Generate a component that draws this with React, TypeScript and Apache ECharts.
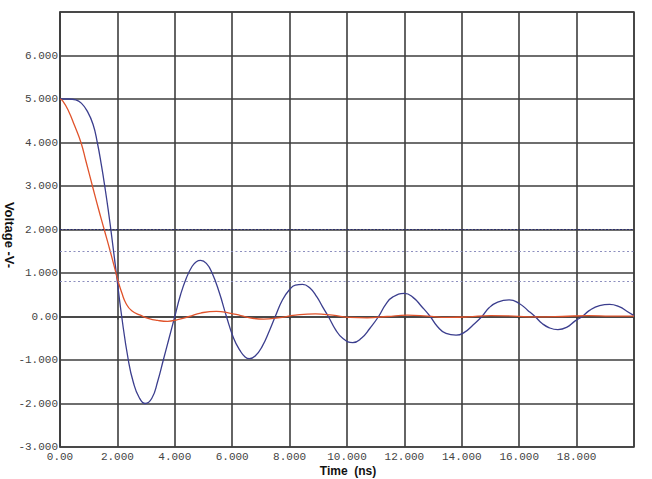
import React, { useEffect, useRef } from "react";
import * as echarts from "echarts";

// Blue trace (time in ns, voltage in V)
const blueTime = [
  0, 0.3, 0.55, 0.75, 0.95, 1.15, 1.3, 1.45, 1.57, 1.68, 1.8, 1.97, 2.15, 2.38, 2.55, 2.75, 2.97,
  3.2, 3.4, 3.6, 3.8, 4.0, 4.2, 4.4, 4.6, 4.75, 4.9, 5.1, 5.3, 5.55, 5.8, 6.05, 6.27, 6.45, 6.6,
  6.8, 7.05, 7.3, 7.5, 7.75, 8.0, 8.2, 8.45, 8.7, 8.95, 9.15, 9.35, 9.6, 9.85, 10.2, 10.5, 10.8,
  11.1, 11.35, 11.6, 12.0, 12.3, 12.6, 12.9, 13.15, 13.45, 13.8, 14.1, 14.4, 14.7, 14.95, 15.25,
  15.65, 16.0, 16.3, 16.55, 16.8, 17.05, 17.35, 17.65, 17.95, 18.2, 18.45, 18.8, 19.15, 19.5,
  19.75, 20.0,
];
const blueVolt = [
  5.0, 5.0, 4.98, 4.9, 4.72, 4.42, 4.0, 3.45, 2.95, 2.45, 1.85, 0.95, 0.0, -1.0, -1.5, -1.85, -2.0,
  -1.88, -1.5, -1.0, -0.5, 0.0, 0.5, 0.88, 1.15, 1.26, 1.29, 1.22, 1.0, 0.55, 0.0, -0.5, -0.78,
  -0.93, -0.97, -0.91, -0.68, -0.32, 0.0, 0.38, 0.62, 0.72, 0.74, 0.66, 0.45, 0.22, 0.0, -0.3,
  -0.5, -0.6, -0.5, -0.27, 0.0, 0.28, 0.45, 0.53, 0.44, 0.23, 0.0, -0.23, -0.39, -0.43, -0.36,
  -0.19, 0.0, 0.2, 0.33, 0.38, 0.3, 0.14, 0.0, -0.16, -0.26, -0.3, -0.25, -0.1, 0.0, 0.14, 0.25,
  0.28, 0.22, 0.12, 0.02,
];

// Red trace
const redTime = [
  0, 0.1, 0.3, 0.5, 0.73, 0.9, 1.13, 1.33, 1.54, 1.75, 1.95, 2.03, 2.15, 2.3, 2.5, 2.8, 3.1, 3.4,
  3.75, 4.1, 4.5, 4.9, 5.45, 5.9, 6.3, 6.7, 7.1, 7.6, 8.2, 8.9, 9.5, 10.1, 10.7, 11.4, 12.1, 12.8,
  13.5, 14.2, 15.0, 15.8, 16.6, 17.5, 18.4, 19.2, 20.0,
];
const redVolt = [
  5.0, 4.95, 4.72, 4.4, 4.0, 3.58, 3.0, 2.5, 2.0, 1.5, 1.0, 0.8, 0.55, 0.3, 0.13, 0.03, -0.05,
  -0.09, -0.11, -0.07, 0.0, 0.08, 0.12, 0.08, 0.02, -0.04, -0.06, -0.03, 0.03, 0.06, 0.03, -0.02,
  -0.03, 0.0, 0.03, 0.01, -0.02, -0.01, 0.02, 0.01, -0.01, 0.0, 0.02, 0.01, 0.01,
];

// Horizontal dotted reference levels
const darkLevels = [2.0];
const lightLevels = [1.5, 0.8];

const fmt = (v: number) => (v === 0 ? "0.00" : v.toFixed(3));

export default function App() {
  const ref = useRef<HTMLDivElement>(null);
  useEffect(() => {
    if (!ref.current) return;
    const chart = echarts.init(ref.current, undefined, { renderer: "svg" });
    const gridColor = "#3e3e3e";
    const labelStyle = {
      fontFamily: "Liberation Mono, monospace",
      fontSize: 11,
      color: "#444",
    };
    chart.setOption({
      animation: false,
      backgroundColor: "#fff",
      grid: {
        left: 60,
        top: 12,
        right: 18,
        bottom: 32,
        show: true,
        borderColor: gridColor,
        borderWidth: 1.5,
      },
      xAxis: {
        type: "value",
        min: 0,
        max: 20,
        interval: 2,
        axisLine: { show: true, lineStyle: { color: gridColor, width: 1.6 } },
        axisTick: { show: true, length: 3, lineStyle: { color: gridColor, width: 1.5 } },
        splitLine: { show: true, lineStyle: { color: gridColor, width: 1.6 } },
        axisLabel: {
          ...labelStyle,
          margin: 4,
          formatter: (v: number) => (v >= 20 ? "" : fmt(v)),
        },
      },
      yAxis: {
        type: "value",
        min: -3,
        max: 7,
        interval: 1,
        axisLine: { show: true, lineStyle: { color: gridColor, width: 1.6 } },
        axisTick: { show: false },
        splitLine: { show: true, lineStyle: { color: gridColor, width: 1.6 } },
        axisLabel: {
          ...labelStyle,
          margin: 2,
          formatter: (v: number) => (v >= 7 ? "" : fmt(v)),
        },
      },
      graphic: [
        {
          type: "text",
          x: 9,
          y: 235,
          rotation: -Math.PI / 2,
          style: {
            text: "Voltage -V-",
            font: "bold 13px 'Liberation Sans', Arial, sans-serif",
            fill: "#111",
            align: "center",
            verticalAlign: "middle",
          },
        },
        {
          type: "text",
          x: 348,
          y: 471,
          style: {
            text: "Time  (ns)",
            font: "bold 12px 'Liberation Sans', Arial, sans-serif",
            fill: "#111",
            align: "center",
            verticalAlign: "middle",
          },
        },
      ],
      series: [
        {
          type: "line",
          data: blueTime.map((t, i) => [t, blueVolt[i]]),
          showSymbol: false,
          smooth: 0.5,
          lineStyle: { color: "#3b3e8e", width: 1.3 },
          z: 3,
          markLine: {
            silent: true,
            symbol: "none",
            label: { show: false },
            data: [
              ...darkLevels.map((y) => ({
                yAxis: y,
                lineStyle: { color: "#2a2d6a", width: 1.2, type: [2, 1.5] },
              })),
              ...lightLevels.map((y) => ({
                yAxis: y,
                lineStyle: { color: "#8d8fbf", width: 1, type: [2, 2.5] },
              })),
            ],
          },
        },
        {
          type: "line",
          data: redTime.map((t, i) => [t, redVolt[i]]),
          showSymbol: false,
          smooth: 0.5,
          lineStyle: { color: "#e0532b", width: 1.3 },
          z: 4,
        },
      ],
    });
    return () => chart.dispose();
  }, []);
  return <div ref={ref} style={{ width: 652, height: 479, position: "absolute", left: 0, top: 0 }} />;
}
